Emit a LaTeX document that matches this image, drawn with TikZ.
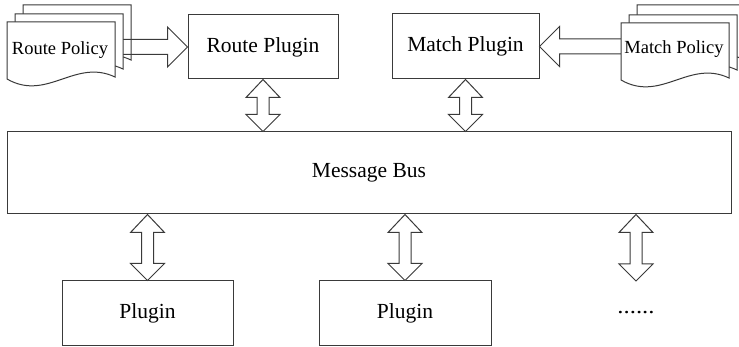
\documentclass[tikz,border=0pt]{standalone}
\usepackage{fontspec}
\setmainfont{Liberation Serif}
\usetikzlibrary{calc}

\definecolor{linec}{HTML}{3A3A3A}

% hollow vertical double arrow between an upper and a lower end point
\newcommand\dblarrow[2]{%
  \draw[conn,fill=white] (#1) -- ++(17,18) -- ++(-11,0) -- ($(#2)+(6,-17)$)
    -- ++(11,0) -- (#2) -- ++(-17,-17) -- ++(11,0) -- ($(#1)+(-6,18)$)
    -- ++(-11,0) -- cycle;}

% hollow horizontal arrow, open at its tail; #3 = +1 points right, -1 points left
\newcommand\flowarrow[3]{%
  \draw[conn] ($(#1)+(0,-7.5)$) -- ($(#2)+(-20*#3,-7.5)$) -- ($(#2)+(-20*#3,-20)$)
    -- (#2) -- ($(#2)+(-20*#3,20)$) -- ($(#2)+(-20*#3,7.5)$) -- ($(#1)+(0,7.5)$);}

% one page of a document stack, top-left corner at (#1,#2)
\newcommand\docpage[2]{%
  \begin{scope}[shift={(#1,#2)}]
    \draw[conn,fill=white] (0,0) -- (108,0) -- (108,55)
      .. controls (68,36) and (40,80) .. (0,57) -- cycle;
  \end{scope}}

\tikzset{
  conn/.style={draw=linec, line width=1pt, line join=miter},
  box/.style={draw=linec, line width=1pt, fill=white, inner sep=0pt,
    font=\fontsize{21.5}{24}\selectfont},
  doclabel/.style={anchor=base, inner sep=0pt, font=\fontsize{18.5}{21}\selectfont},
}

\begin{document}
\begin{tikzpicture}[x=1pt, y=-1pt]
  \useasboundingbox[fill=white] (0,0) rectangle (739,347);

  % main blocks
  \node[box, minimum width=150pt, minimum height=64pt] (rp) at (263,47) {Route Plugin};
  \node[box, minimum width=147pt, minimum height=65pt] (mp) at (465.5,46.5) {Match Plugin};
  \node[box, minimum width=724pt, minimum height=82pt] (bus) at (369,173) {Message Bus};
  \node[box, minimum width=171pt, minimum height=64.5pt] (pa) at (147.5,313.25) {Plugin};
  \node[box, minimum width=172pt, minimum height=64.5pt] (pb) at (405,313.25) {Plugin};
  \node[anchor=base, inner sep=0pt, font=\fontsize{21.5}{24}\selectfont, xscale=1.15]
    (more) at (636,314) {......};
  \coordinate (moretop) at (636,281);

  % Route Policy document stack feeding the Route Plugin
  \coordinate (rtail) at (123,47);
  \docpage{23}{5}
  \flowarrow{rtail}{rp.west}{1}
  \docpage{15}{14}
  \docpage{7}{22}
  \node[doclabel] (rpol) at (60,54.5) {Route Policy};

  % Match Policy document stack feeding the Match Plugin
  \coordinate (mtail) at (621,46.5);
  \flowarrow{mtail}{mp.east}{-1}
  \docpage{637}{5}
  \docpage{629}{15}
  \docpage{621}{23}
  \node[doclabel] (mpol) at (674,53.5) {Match Policy};

  % bus connections
  \dblarrow{rp.south}{rp.south |- bus.north}
  \dblarrow{mp.south}{mp.south |- bus.north}
  \dblarrow{pa.north |- bus.south}{pa.north}
  \dblarrow{pb.north |- bus.south}{pb.north}
  \dblarrow{moretop |- bus.south}{moretop}
\end{tikzpicture}
\end{document}
